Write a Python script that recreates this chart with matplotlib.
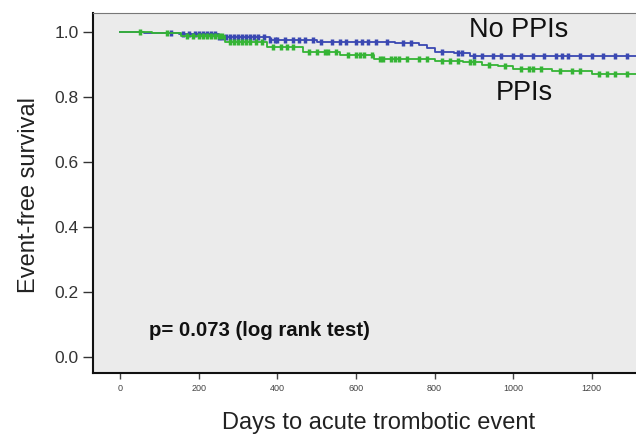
import matplotlib
matplotlib.use("Agg")
import matplotlib.pyplot as plt
import numpy as np

plt.rcParams["font.family"] = ["Liberation Sans", "DejaVu Sans"]

# Kaplan-Meier step data (days, survival)
no_ppi_t = [0, 60, 150, 250, 380, 500, 700, 760, 780, 800, 850, 890]
no_ppi_s = [1.0, 0.997, 0.994, 0.985, 0.975, 0.970, 0.967, 0.960, 0.950, 0.940, 0.934, 0.927]
no_ppi_cens = [130, 160, 175, 190, 200, 210, 220, 230, 240, 250, 260, 270, 280, 290, 300,
               310, 320, 330, 340, 350, 365, 380, 395, 400, 420, 440, 455, 470, 490, 510,
               540, 560, 575, 600, 615, 630, 650, 680, 720, 740, 820, 860, 870, 900, 920,
               950, 970, 1000, 1020, 1050, 1080, 1110, 1125, 1140, 1170, 1200, 1230,
               1260, 1290, 1320, 1335]

ppi_t = [0, 80, 155, 266, 374, 465, 560, 647, 800, 873, 920, 961, 1000, 1099, 1200]
ppi_s = [1.0, 0.996, 0.988, 0.968, 0.954, 0.938, 0.928, 0.918, 0.912, 0.908, 0.900, 0.895,
         0.885, 0.879, 0.870]
ppi_cens = [50, 120, 170, 185, 200, 210, 220, 230, 240, 250, 260, 280, 290, 300, 310, 320,
            330, 345, 360, 390, 410, 425, 440, 480, 500, 520, 530, 550, 580, 600, 610, 620,
            640, 660, 670, 690, 700, 710, 730, 760, 780, 820, 840, 860, 890, 900, 940,
            980, 1020, 1040, 1050, 1070, 1120, 1150, 1170, 1220, 1240, 1260, 1290, 1320]

x_end = 1345
blue = "#3a48b2"
green = "#35b435"


def surv_at(t, times, vals):
    idx = np.searchsorted(times, t, side="right") - 1
    return np.array(vals)[idx]


fig = plt.figure(figsize=(6.36, 4.38), dpi=100)
ax = fig.add_axes([0.146, 0.148, 0.92, 0.822])
ax.set_facecolor("#ebebeb")

for t, s, c, col in [(no_ppi_t, no_ppi_s, no_ppi_cens, blue),
                     (ppi_t, ppi_s, ppi_cens, green)]:
    tt = list(t) + [x_end]
    ss = list(s) + [s[-1]]
    ax.step(tt, ss, where="post", color=col, lw=1.3)
    ax.plot(c, surv_at(np.array(c), t, s), "|", color=col, ms=5, mew=2.5)

ax.set_xlim(-70, 1420)
ax.set_ylim(-0.049, 1.058)
ax.set_xticks(range(0, 1400, 200))
ax.set_yticks([0.0, 0.2, 0.4, 0.6, 0.8, 1.0])
ax.set_yticklabels(["0.0", "0.2", "0.4", "0.6", "0.8", "1.0"])
ax.tick_params(axis="y", length=7, width=1, labelsize=12.5, colors="#333333", pad=3)
ax.tick_params(axis="x", length=4, width=1, labelsize=6.5, colors="#444444", pad=4)

for side in ["left", "bottom"]:
    ax.spines[side].set_linewidth(1.5)
    ax.spines[side].set_color("#111111")
ax.spines["top"].set_color("#777777")
ax.spines["top"].set_linewidth(0.8)
ax.spines["right"].set_visible(False)

ax.text(1013, 1.006, "No PPIs", fontsize=19.5, ha="center", va="center", color="#111111")
ax.text(1029, 0.812, "PPIs", fontsize=19.5, ha="center", va="center", color="#111111")
ax.text(73, 0.083, "p= 0.073 (log rank test)", fontsize=14.7, fontweight="bold",
        ha="left", va="center", color="#111111")

fig.text(0.046, 0.555, "Event-free survival", rotation=90, fontsize=17,
         ha="center", va="center", color="#222222")
fig.text(0.596, 0.035, "Days to acute trombotic event", fontsize=17,
         ha="center", va="center", color="#222222")

fig.savefig("out.png", dpi=100)
